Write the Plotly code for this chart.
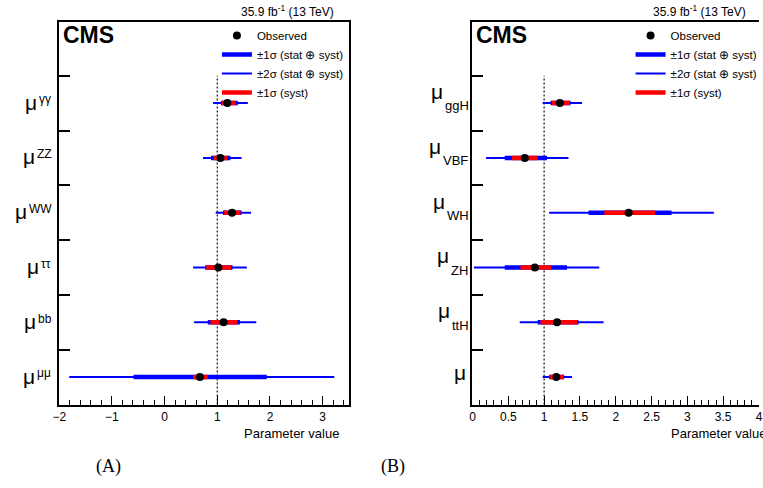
import plotly.graph_objects as go

FONT = "Liberation Sans"
W, H = 763, 488

# ---- left panel: signal strength per decay mode (top row first) ----
decay_scripts = ["γγ", "ZZ", "WW", "ττ", "bb", "μμ"]
decay_obs = [1.19, 1.06, 1.28, 1.02, 1.12, 0.67]
decay_tot1_lo = [1.07, 0.88, 1.11, 0.77, 0.82, -0.59]
decay_tot1_hi = [1.39, 1.25, 1.46, 1.29, 1.43, 1.94]
decay_tot2_lo = [0.92, 0.73, 0.97, 0.54, 0.56, -1.81]
decay_tot2_hi = [1.58, 1.46, 1.64, 1.56, 1.74, 3.22]
decay_syst_lo = [1.09, 0.93, 1.13, 0.79, 0.87, 0.54]
decay_syst_hi = [1.35, 1.19, 1.44, 1.26, 1.38, 0.82]

# ---- right panel: signal strength per production mode (top row first) ----
prod_scripts = ["ggH", "VBF", "WH", "ZH", "ttH", ""]
prod_obs = [1.22, 0.73, 2.18, 0.87, 1.18, 1.17]
prod_tot1_lo = [1.09, 0.45, 1.62, 0.45, 0.91, 1.07]
prod_tot1_hi = [1.37, 1.04, 2.78, 1.32, 1.48, 1.28]
prod_tot2_lo = [0.98, 0.19, 1.07, 0.02, 0.66, 0.98]
prod_tot2_hi = [1.53, 1.34, 3.37, 1.77, 1.83, 1.39]
prod_syst_lo = [1.11, 0.55, 1.84, 0.67, 0.95, 1.08]
prod_syst_hi = [1.36, 0.91, 2.55, 1.10, 1.46, 1.27]

legend_names = ["Observed", "±1σ (stat ⊕ syst)", "±2σ (stat ⊕ syst)", "±1σ (syst)"]
sm_value = 1.0
lumi_text = "35.9 fb<sup>-1</sup> (13 TeV)"
x_title = "Parameter value"
captions = ["(A)", "(B)"]

BLUE, RED = "#0000ff", "#ff0000"

# approximate advance widths (em) of Liberation Sans glyphs used in labels
GLYPH_EM = {"γ": 0.50, "τ": 0.44, "μ": 0.576, "Z": 0.611, "W": 0.944, "b": 0.556,
            "g": 0.556, "H": 0.722, "V": 0.667, "B": 0.667, "F": 0.611, "t": 0.278}


def text_width(s, size):
    return sum(GLYPH_EM.get(c, 0.55) for c in s) * size


def row_positions(n):
    return [n - i - 0.5 for i in range(n)]


def segments(lo, hi, ys):
    xs, yy = [], []
    for a, b, y in zip(lo, hi, ys):
        xs += [a, b, None]
        yy += [y, y, None]
    return xs, yy


fig = go.Figure()


def add_panel(xa, ya, leg, obs, t1lo, t1hi, t2lo, t2hi, slo, shi):
    ys = row_positions(len(obs))
    n = len(obs)
    fig.add_trace(go.Scatter(x=[sm_value, sm_value], y=[0, n], mode="lines",
                             line=dict(color="#222222", width=1.3, dash="2px,2px"),
                             showlegend=False, hoverinfo="skip", xaxis=xa, yaxis=ya))
    x2, y2 = segments(t2lo, t2hi, ys)
    fig.add_trace(go.Scatter(x=x2, y=y2, mode="lines", name=legend_names[2],
                             line=dict(color=BLUE, width=2), legend=leg, legendrank=3,
                             xaxis=xa, yaxis=ya))
    x1, y1 = segments(t1lo, t1hi, ys)
    fig.add_trace(go.Scatter(x=x1, y=y1, mode="lines", name=legend_names[1],
                             line=dict(color=BLUE, width=4.5), legend=leg, legendrank=2,
                             xaxis=xa, yaxis=ya))
    xs, ysy = segments(slo, shi, ys)
    fig.add_trace(go.Scatter(x=xs, y=ysy, mode="lines", name=legend_names[3],
                             line=dict(color=RED, width=4.5), legend=leg, legendrank=4,
                             xaxis=xa, yaxis=ya))
    fig.add_trace(go.Scatter(x=obs, y=ys, mode="markers", name=legend_names[0],
                             marker=dict(color="black", size=8), legend=leg, legendrank=1,
                             xaxis=xa, yaxis=ya))


add_panel("x", "y", "legend", decay_obs, decay_tot1_lo, decay_tot1_hi,
          decay_tot2_lo, decay_tot2_hi, decay_syst_lo, decay_syst_hi)
add_panel("x2", "y2", "legend2", prod_obs, prod_tot1_lo, prod_tot1_hi,
          prod_tot2_lo, prod_tot2_hi, prod_syst_lo, prod_syst_hi)

annotations = []


def row_labels(xref, yref, scripts, superscript, gap):
    ys = row_positions(len(scripts))
    mu_size, sc_size = 21, (12 if superscript else 13)
    for y, sc in zip(ys, scripts):
        w = text_width(sc, sc_size)
        if sc:
            mu_shift = 1 if superscript else 11.7
            sc_shift = 3.7 if superscript else -2.7
            annotations.append(dict(text=sc, xref=xref, yref=yref, x=0, y=y,
                                    xanchor="left", yanchor="middle",
                                    xshift=-(gap + w), yshift=sc_shift, borderpad=0,
                                    showarrow=False, font=dict(size=sc_size)))
        else:
            mu_shift = 4.3
        annotations.append(dict(text="μ", xref=xref, yref=yref, x=0, y=y,
                                xanchor="right", yanchor="middle",
                                xshift=-(gap + w), yshift=mu_shift, borderpad=0,
                                showarrow=False, font=dict(size=mu_size)))


row_labels("x domain", "y", decay_scripts, True, 9)
row_labels("x2 domain", "y2", prod_scripts, False, 5)

# per panel: axis refs, lumi-label offset, axis-title offset
panel_text = (("x domain", "y domain", -13, -8), ("x2 domain", "y2 domain", -11, 9))
for xr, yr, lumi_shift, title_shift in panel_text:
    annotations.append(dict(text="<b>CMS</b>", xref=xr, yref=yr, x=0, y=1,
                            xanchor="left", yanchor="top", xshift=2, yshift=2,
                            showarrow=False, font=dict(size=23)))
    annotations.append(dict(text=lumi_text, xref=xr, yref=yr, x=1, y=1,
                            xanchor="right", yanchor="bottom", xshift=lumi_shift, yshift=1,
                            showarrow=False, font=dict(size=12)))
    annotations.append(dict(text=x_title, xref=xr, yref="paper", x=1, y=(H - 433) / H,
                            xanchor="right", yanchor="middle", xshift=title_shift,
                            showarrow=False, font=dict(size=13)))

for cap, cx in zip(captions, (103, 392)):
    annotations.append(dict(text=cap, xref="paper", yref="paper", x=cx / W, y=(H - 466) / H,
                            xanchor="center", yanchor="middle", showarrow=False,
                            font=dict(size=18, family="Liberation Serif")))

y_dom = [(H - 404.5) / H, (H - 22) / H]
n_rows = len(decay_obs)
y_top = 6.98

common_x = dict(showline=True, linecolor="black", linewidth=2, mirror=True,
                ticks="inside", ticklen=9, tickwidth=1.2, tickcolor="black",
                showgrid=False, zeroline=False, tickfont=dict(size=12),
                ticklabeloverflow="allow")
common_y = dict(showline=True, linecolor="black", linewidth=2,
                ticks="inside", ticklen=11, tickwidth=2, tickcolor="black",
                tickmode="array", tickvals=list(range(1, n_rows + 1)),
                showticklabels=False, showgrid=False, zeroline=False,
                range=[0, y_top], domain=y_dom)

fig.update_layout(
    width=W, height=H, autosize=False,
    margin=dict(l=0, r=0, t=0, b=0),
    paper_bgcolor="white", plot_bgcolor="white",
    font=dict(family=FONT, color="black"),
    xaxis=dict(common_x, domain=[53 / W, 347 / W], range=[-2, 3.5], dtick=1, tick0=-2,
               minor=dict(dtick=0.2, tick0=-2, ticks="inside", ticklen=5,
                          tickcolor="black", tickwidth=1)),
    yaxis=dict(common_y, anchor="x", mirror=True),
    xaxis2=dict(common_x, domain=[472.3 / W, 1.0], range=[0, 4], dtick=0.5, tick0=0,
                anchor="y2",
                minor=dict(dtick=0.1, tick0=0, ticks="inside", ticklen=5,
                           tickcolor="black", tickwidth=1)),
    yaxis2=dict(common_y, anchor="x2", mirror=False),
    legend=dict(x=213 / W, y=1 - 21 / H, xanchor="left", yanchor="top",
                bgcolor="rgba(0,0,0,0)", font=dict(size=11.5), tracegroupgap=0,
                itemwidth=30),
    legend2=dict(x=632.7 / W, y=1 - 21 / H, xanchor="left", yanchor="top",
                 bgcolor="rgba(0,0,0,0)", font=dict(size=11.5), tracegroupgap=0,
                 itemwidth=30),
    annotations=annotations,
    showlegend=True,
)

fig.write_html("out.html")
